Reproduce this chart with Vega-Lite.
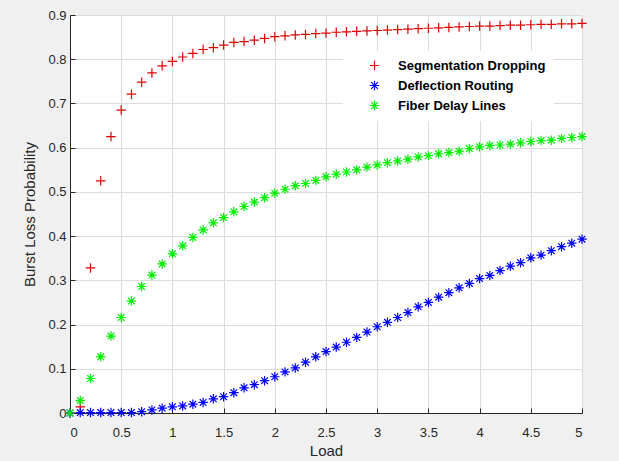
{
  "$schema": "https://vega.github.io/schema/vega-lite/v6.json",
  "width": 512,
  "height": 398,
  "autosize": {"type": "none"},
  "padding": {"left": 70, "top": 15, "right": 37, "bottom": 48},
  "background": "#f0f0f0",
  "config": {
    "view": {"fill": "white", "stroke": null},
    "axis": {
      "domainColor": "#262626",
      "tickColor": "#262626",
      "labelColor": "#262626",
      "titleColor": "#262626",
      "labelFont": "Liberation Sans",
      "titleFont": "Liberation Sans",
      "labelFontSize": 13,
      "titleFontSize": 15,
      "titleFontWeight": "normal",
      "gridColor": "#dcdcdc",
      "gridWidth": 1,
      "tickSize": -5
    }
  },
  "data": {
    "values": [
      {"load": 0.0, "SD": 0.0, "DR": 0.0, "FDL": 0.0},
      {"load": 0.1, "SD": 0.014, "DR": 0.001, "FDL": 0.028},
      {"load": 0.2, "SD": 0.328, "DR": 0.001, "FDL": 0.078},
      {"load": 0.3, "SD": 0.525, "DR": 0.001, "FDL": 0.127},
      {"load": 0.4, "SD": 0.625, "DR": 0.001, "FDL": 0.174},
      {"load": 0.5, "SD": 0.685, "DR": 0.001, "FDL": 0.216},
      {"load": 0.6, "SD": 0.721, "DR": 0.001, "FDL": 0.253},
      {"load": 0.7, "SD": 0.748, "DR": 0.003, "FDL": 0.286},
      {"load": 0.8, "SD": 0.769, "DR": 0.007, "FDL": 0.312},
      {"load": 0.9, "SD": 0.785, "DR": 0.011, "FDL": 0.337},
      {"load": 1.0, "SD": 0.795, "DR": 0.014, "FDL": 0.36},
      {"load": 1.1, "SD": 0.805, "DR": 0.016, "FDL": 0.378},
      {"load": 1.2, "SD": 0.813, "DR": 0.02, "FDL": 0.397},
      {"load": 1.3, "SD": 0.822, "DR": 0.024, "FDL": 0.414},
      {"load": 1.4, "SD": 0.826, "DR": 0.032, "FDL": 0.43},
      {"load": 1.5, "SD": 0.832, "DR": 0.037, "FDL": 0.442},
      {"load": 1.6, "SD": 0.838, "DR": 0.046, "FDL": 0.455},
      {"load": 1.7, "SD": 0.84, "DR": 0.057, "FDL": 0.467},
      {"load": 1.8, "SD": 0.843, "DR": 0.064, "FDL": 0.477},
      {"load": 1.9, "SD": 0.847, "DR": 0.073, "FDL": 0.487},
      {"load": 2.0, "SD": 0.851, "DR": 0.082, "FDL": 0.497},
      {"load": 2.1, "SD": 0.853, "DR": 0.093, "FDL": 0.506},
      {"load": 2.2, "SD": 0.855, "DR": 0.102, "FDL": 0.514},
      {"load": 2.3, "SD": 0.856, "DR": 0.115, "FDL": 0.519},
      {"load": 2.4, "SD": 0.858, "DR": 0.127, "FDL": 0.526},
      {"load": 2.5, "SD": 0.859, "DR": 0.139, "FDL": 0.534},
      {"load": 2.6, "SD": 0.861, "DR": 0.149, "FDL": 0.54},
      {"load": 2.7, "SD": 0.862, "DR": 0.16, "FDL": 0.545},
      {"load": 2.8, "SD": 0.863, "DR": 0.171, "FDL": 0.55},
      {"load": 2.9, "SD": 0.864, "DR": 0.183, "FDL": 0.556},
      {"load": 3.0, "SD": 0.865, "DR": 0.195, "FDL": 0.561},
      {"load": 3.1, "SD": 0.866, "DR": 0.205, "FDL": 0.566},
      {"load": 3.2, "SD": 0.867, "DR": 0.216, "FDL": 0.57},
      {"load": 3.3, "SD": 0.868, "DR": 0.227, "FDL": 0.574},
      {"load": 3.4, "SD": 0.869, "DR": 0.24, "FDL": 0.579},
      {"load": 3.5, "SD": 0.87, "DR": 0.25, "FDL": 0.582},
      {"load": 3.6, "SD": 0.871, "DR": 0.262, "FDL": 0.586},
      {"load": 3.7, "SD": 0.872, "DR": 0.272, "FDL": 0.589},
      {"load": 3.8, "SD": 0.873, "DR": 0.283, "FDL": 0.592},
      {"load": 3.9, "SD": 0.874, "DR": 0.293, "FDL": 0.598},
      {"load": 4.0, "SD": 0.875, "DR": 0.304, "FDL": 0.602},
      {"load": 4.1, "SD": 0.875, "DR": 0.311, "FDL": 0.605},
      {"load": 4.2, "SD": 0.876, "DR": 0.322, "FDL": 0.606},
      {"load": 4.3, "SD": 0.877, "DR": 0.332, "FDL": 0.608},
      {"load": 4.4, "SD": 0.877, "DR": 0.34, "FDL": 0.611},
      {"load": 4.5, "SD": 0.878, "DR": 0.351, "FDL": 0.614},
      {"load": 4.6, "SD": 0.879, "DR": 0.357, "FDL": 0.616},
      {"load": 4.7, "SD": 0.879, "DR": 0.367, "FDL": 0.617},
      {"load": 4.8, "SD": 0.88, "DR": 0.376, "FDL": 0.621},
      {"load": 4.9, "SD": 0.88, "DR": 0.384, "FDL": 0.623},
      {"load": 5.0, "SD": 0.881, "DR": 0.393, "FDL": 0.625}
    ]
  },
  "transform": [{"fold": ["SD", "DR", "FDL"], "as": ["series", "value"]}],
  "mark": {"type": "point", "filled": false, "strokeWidth": 1.2, "opacity": 1, "size": 90},
  "encoding": {
    "x": {
      "field": "load",
      "type": "quantitative",
      "scale": {"domain": [0, 5], "nice": false},
      "axis": {
        "title": "Load",
        "values": [0, 0.5, 1, 1.5, 2, 2.5, 3, 3.5, 4, 4.5, 5],
        "format": "~g",
        "labelPadding": 18,
        "titlePadding": 4
      }
    },
    "y": {
      "field": "value",
      "type": "quantitative",
      "scale": {"domain": [0, 0.9], "nice": false},
      "axis": {
        "title": "Burst Loss Probability",
        "values": [0, 0.1, 0.2, 0.3, 0.4, 0.5, 0.6, 0.7, 0.8, 0.9],
        "format": "~g",
        "labelPadding": 9,
        "titlePadding": 10
      }
    },
    "color": {
      "field": "series",
      "type": "nominal",
      "scale": {"domain": ["SD", "DR", "FDL"], "range": ["#e00000", "#0000ff", "#00ee00"]},
      "legend": {
        "orient": "none",
        "legendX": 273,
        "legendY": 36,
        "title": null,
        "fillColor": "white",
        "padding": 8,
        "symbolOffset": 17,
        "labelOffset": 17,
        "rowPadding": 5,
        "symbolSize": 90,
        "symbolStrokeWidth": 1.2,
        "symbolFillColor": "transparent",
        "labelFont": "Liberation Sans",
        "labelFontWeight": "bold",
        "labelFontSize": 13,
        "labelColor": "#000000",
        "labelExpr": "datum.label == 'SD' ? 'Segmentation Dropping' : datum.label == 'DR' ? 'Deflection Routing' : 'Fiber Delay Lines'"
      }
    },
    "shape": {
      "field": "series",
      "type": "nominal",
      "scale": {
        "domain": ["SD", "DR", "FDL"],
        "range": [
          "M-1,0L1,0M0,-1L0,1",
          "M-1,0L1,0M0,-1L0,1M-0.7,-0.7L0.7,0.7M-0.7,0.7L0.7,-0.7",
          "M-1,0L1,0M0,-1L0,1M-0.7,-0.7L0.7,0.7M-0.7,0.7L0.7,-0.7"
        ]
      }
    }
  }
}
